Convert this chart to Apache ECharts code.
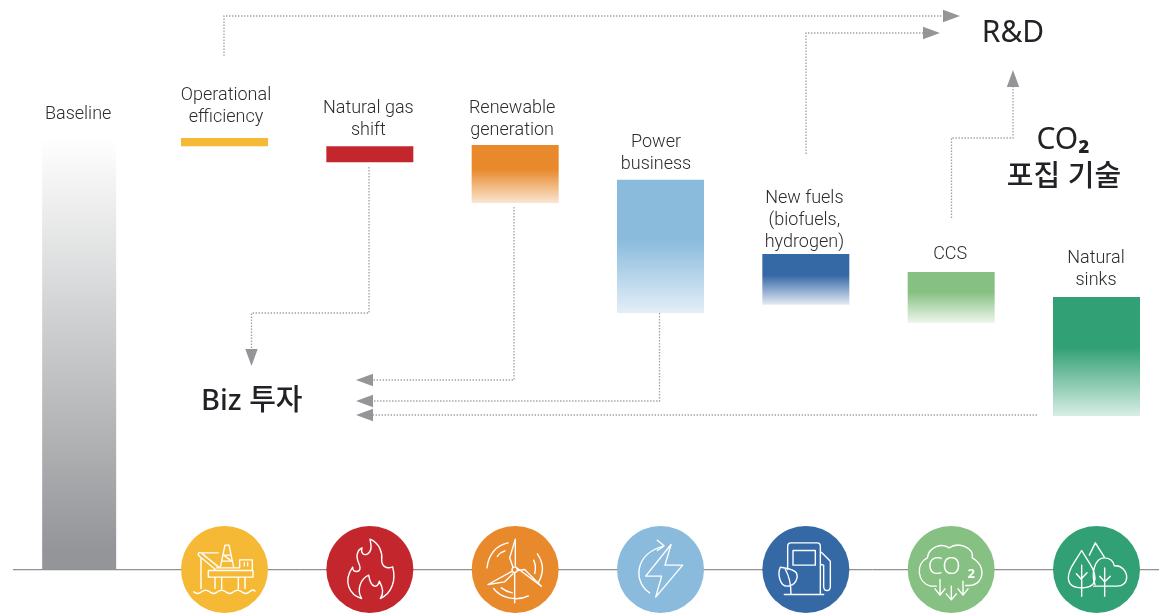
<!DOCTYPE html>
<html>
<head>
<meta charset="utf-8">
<title>Abatement levers</title>
<style>html,body{margin:0;padding:0;background:#fff}#c{width:1159px;height:615px}</style>
<script src="https://cdn.jsdelivr.net/npm/echarts@6/dist/echarts.min.js"></script>
</head>
<body>
<div id="c"></div>
<script>
const categories = ['Baseline','Operational\nefficiency','Natural gas\nshift','Renewable\ngeneration','Power\nbusiness','New fuels\n(biofuels,\nhydrogen)','CCS','Natural\nsinks'];
const barHigh = [100, 100, 98.1, 98.4, 90.3, 73.1, 68.9, 63.1];
const barLow  = [0, 98.1, 94.4, 84.9, 59.4, 61.3, 57.1, 35.5];

const FONT = '"Noto Sans","Noto Sans CJK KR",sans-serif';
const LABEL_FONT = 'Roboto,"Noto Sans",sans-serif';
const TEXT = '#2c2c30';
const barFills = [
  [[0,'#ffffff'],[0.96,'#939598'],[1,'#939598']],
  [[0,'#F5B935'],[1,'#F5B935']],
  [[0,'#C4262E'],[1,'#C4262E']],
  [[0,'#E8892B'],[0.42,'#E8892B'],[1,'#FAE6D3']],
  [[0,'#8ABBDD'],[0.45,'#8ABBDD'],[1,'#E3EFF7']],
  [[0,'#3569A6'],[0.42,'#3569A6'],[1,'#E3EAF3']],
  [[0,'#86C183'],[0.4,'#86C183'],[1,'#EEF6ED']],
  [[0,'#31A074'],[0.42,'#31A074'],[1,'#D8EEE5']]
];
const labelGap = [13, 9.5, 5, 3, 4, 0.5, 7, 6];
const labelShift = [-1, 1.5, -1.5, -3, -4.5, -1.5, -1, -0.5];
const circleColors = ['#F5B935','#C4262E','#E8892B','#8ABBDD','#3569A6','#86C183','#31A074'];

const ANCHOR = 'M0 0L0 0M270 270L270 270';
const iconPaths = [
  'M88 138H222V158H88ZM112 130H180M108 158V192M128 158V192M178 158V192M198 158V192M66 100V192M58 92L110 136M62 84C58 84 56 90 60 94M64 85H118M70 88L122 130M124 128L138 62H150L164 128M133 92H156M130 110H160M134 92L158 110M182 130V106H220V138M196 114V124M206 114V124M44 202Q56 212 68 202T92 202T116 202T140 202T164 202T188 202T212 202T228 200',
  'M137 44C165 55 175 85 172 105C172 125 185 135 205 127C215 165 205 205 168 222C180 205 175 190 165 170C160 190 140 195 133 152C110 162 95 195 112 222C75 212 55 170 85 128C85 145 108 145 107 130C107 115 92 105 100 85C102 78 108 72 113 70C108 85 118 95 130 88C145 78 140 60 137 44Z',
  'M137 44L120 100L130 128M137 44V127M55 180L128 140M55 180L105 172L130 148M215 185L144 132M215 185L165 135L145 138M135 145V235M52 130C56 90 80 62 115 55M83 96C88 88 96 82 106 79M203 88C222 115 222 145 207 172M192 107C198 120 198 135 195 147M72 192C92 220 140 232 176 214M95 190C105 198 115 203 128 205M143 136A8 8 0 1 1 127 136A8 8 0 1 1 143 136Z',
  'M168 60L92 155H140L122 218L203 122H150ZM104 205C56 175 55 90 145 65M127 47L147 64L127 78',
  'M82 135V65Q82 55 92 55H170Q180 55 180 65V210M98 78H165V122H98ZM72 210H190M183 83L210 110V185Q210 198 200 198Q190 198 190 185V122L182 120M60 128C50 150 60 185 80 185C105 185 115 160 108 145C95 130 75 132 60 128ZM75 135C90 160 92 185 92 210',
  'M92 185H75C35 175 28 118 65 100C70 65 110 55 130 70C160 50 205 70 200 100C240 120 240 178 192 183H180M103 165V210M88 193L103 212L118 193M137 185V226M122 208L137 226L152 208M172 170V210M157 193L172 212L187 193',
  'M92 78C70 115 52 135 52 160C52 185 72 190 92 190C112 190 132 185 132 160C132 135 112 112 92 78ZM92 122V215M76 148L92 166M108 145L92 162M115 92L133 55L160 98M132 180C120 150 130 100 160 100C178 100 188 112 190 124C212 122 227 140 227 158C227 175 215 185 198 185H128M161 130V215M146 155L161 172L178 155'
];

const chart = echarts.init(document.getElementById('c'), null, {renderer:'canvas'});

function renderBar(params, api){
  const i = api.value(0);
  const top = api.coord([i, api.value(1)]);
  const bot = api.coord([i, api.value(2)]);
  const w = i === 0 ? 74 : 87;
  return {
    type:'group',
    children:[
      {type:'rect', shape:{x:top[0]-w/2, y:top[1], width:w, height:bot[1]-top[1]},
       style:{fill:new echarts.graphic.LinearGradient(0,0,0,1,barFills[i].map(s=>({offset:s[0],color:s[1]})))}},
      {type:'text', x:top[0]+labelShift[i], y:top[1]-labelGap[i],
       style:{text:categories[i], fill:TEXT, font:'300 18px '+LABEL_FONT, align:'center', verticalAlign:'bottom', lineHeight:22}}
    ]
  };
}

function renderIcon(params, api){
  const i = api.value(0) - 1;
  const c = api.coord([i+1, 0]);
  const s = 90;
  const x0 = c[0]-s/2-0.5, y0 = c[1]-s/2+0.5;
  const kids = [
    {type:'circle', shape:{cx:c[0], cy:c[1]+0.5, r:43.5}, style:{fill:circleColors[i]}},
    {type:'path', shape:{pathData:ANCHOR+iconPaths[i], x:x0, y:y0, width:s, height:s, layout:'cover'},
     style:{fill:'none', stroke:'#ffffff', lineWidth:1.4, lineJoin:'round', lineCap:'round'}}
  ];
  if(i === 5){
    kids.push({type:'text', x:c[0]-7, y:c[1]-2, style:{text:'CO', fill:'#fff', font:'300 24px '+FONT, align:'center', verticalAlign:'middle'}});
    kids.push({type:'text', x:c[0]+20, y:c[1]+5.5, style:{text:'2', fill:'#fff', font:'700 13px '+FONT, align:'center', verticalAlign:'middle'}});
  }
  return {type:'group', children:kids};
}

function flow(points){
  return {type:'polyline', silent:true, z:5, shape:{points},
    style:{fill:'none', stroke:'#9FA1A4', lineWidth:1.3, lineDash:[1.4,1.6]}};
}
function head(tip, dir){
  const L=17, H=6.2, [x,y]=tip;
  const p = dir==='r'?[[x,y],[x-L,y-H],[x-L,y+H]]:dir==='l'?[[x,y],[x+L,y-H],[x+L,y+H]]:
            dir==='d'?[[x,y],[x-H,y-L],[x+H,y-L]]:[[x,y],[x-H,y+L],[x+H,y+L]];
  return {type:'polygon', silent:true, z:5, shape:{points:p}, style:{fill:'#939598'}};
}
function big(text,x,y,size,align,weight){
  return {type:'text', silent:true, z:6, x, y,
    style:{text, fill:'#222226', font:(weight||500)+' '+size+'px '+FONT, align:align||'center', verticalAlign:'middle'}};
}

chart.setOption({
  animation:false,
  backgroundColor:'#ffffff',
  grid:{left:6.5, width:1162.67, top:138, bottom:46, outerBoundsMode:'none', containLabel:false},
  xAxis:{type:'category', data:categories, show:false},
  yAxis:{type:'value', min:0, max:100, show:false},
  series:[
    {type:'custom', name:'bars', z:3, renderItem:renderBar, clip:false, silent:true,
     data:categories.map((c,i)=>[i,barHigh[i],barLow[i]])},
    {type:'custom', name:'icons', z:4, renderItem:renderIcon, clip:false, silent:true,
     data:circleColors.map((c,i)=>[i+1])}
  ],
  graphic:[
    {type:'line', z:1, silent:true, shape:{x1:13,y1:570.5,x2:1159,y2:570.5}, style:{stroke:'#E2E2E3', lineWidth:1}},
    {type:'line', z:1, silent:true, shape:{x1:13,y1:569.5,x2:1159,y2:569.5}, style:{stroke:'#8F9194', lineWidth:1}},
    flow([[224,56],[224,16],[945,16]]), head([960,16],'r'),
    flow([[806,154],[806,33],[925,33]]), head([940,33],'r'),
    flow([[951.5,218],[951.5,138],[1013,138],[1013,87]]), head([1013,70],'u'),
    flow([[369,167],[369,313],[251.5,313],[251.5,350]]), head([251.5,366],'d'),
    flow([[514,207],[514,380],[373,380]]), head([356,380],'l'),
    flow([[659.5,313],[659.5,401],[373,401]]), head([356,401],'l'),
    flow([[1037,415],[373,415]]), head([356,415],'l'),
    big('R&D',1013,33,30,'center',400),
    big('Biz 투자',201,402,29,'left'),
    {type:'text', silent:true, z:6, x:1063, y:140, style:{text:'{a|CO}{b|₂}', align:'center', verticalAlign:'middle',
      rich:{a:{fontFamily:FONT, fontSize:30, fontWeight:400, fill:'#222226', color:'#222226'}, b:{fontFamily:FONT, fontSize:30, fontWeight:700, fill:'#222226', color:'#222226'}}}},
    big('포집 기술',1064,178,29)
  ]
});
</script>
</body>
</html>
